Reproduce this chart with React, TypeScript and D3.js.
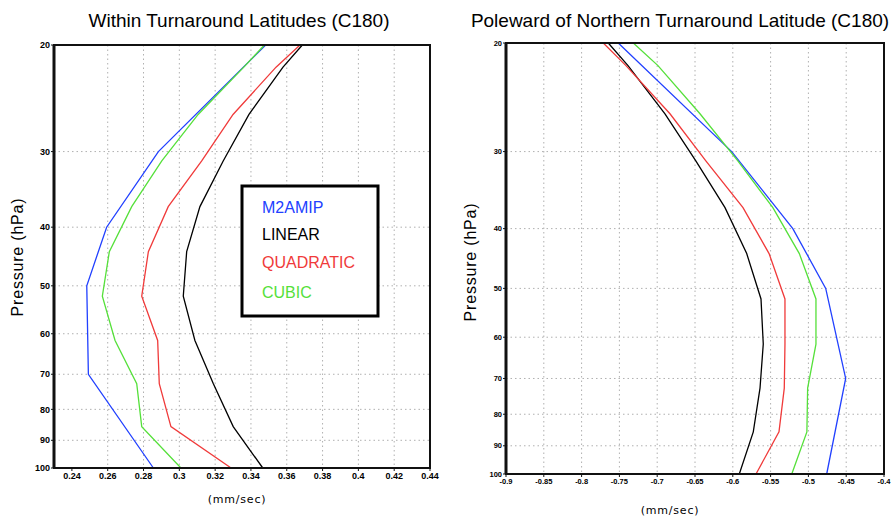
import React from "react";
import * as d3 from "d3";

const MODEL_LEVELS = [20, 21.76, 26.05, 31.09, 36.99, 43.91, 52.02, 61.56, 72.56, 85.44, 100];
const M2_LEVELS = [20, 30, 40, 50, 70, 100];
const Y_TICKS = [20, 30, 40, 50, 60, 70, 80, 90, 100];

const SERIES_NAMES = ["M2AMIP", "LINEAR", "QUADRATIC", "CUBIC"];
const SERIES_COLORS = ["#2140ff", "#000000", "#f03a3a", "#55e03a"];

const leftM2 = [0.3482, 0.2883, 0.2594, 0.2483, 0.2492, 0.2855];
const leftLinear = [0.3687, 0.3579, 0.3389, 0.3245, 0.3115, 0.3041, 0.3022, 0.3087, 0.319, 0.3301, 0.3466];
const leftQuadratic = [0.3674, 0.354, 0.330, 0.3125, 0.2938, 0.2827, 0.279, 0.2879, 0.2888, 0.2953, 0.3289];
const leftCubic = [0.3475, 0.336, 0.3105, 0.2902, 0.2734, 0.2609, 0.257, 0.2641, 0.2762, 0.279, 0.3009];

const rightM2 = [-0.7515, -0.6015, -0.5206, -0.4771, -0.4507, -0.4758];
const rightLinear = [-0.7647, -0.7386, -0.6897, -0.6487, -0.6103, -0.5816, -0.5627, -0.5597, -0.564, -0.5729, -0.5914];
const rightQuadratic = [-0.7713, -0.7413, -0.6831, -0.6354, -0.5865, -0.552, -0.531, -0.531, -0.5319, -0.5389, -0.5693];
const rightCubic = [-0.7316, -0.699, -0.6434, -0.5931, -0.547, -0.512, -0.49, -0.49, -0.501, -0.502, -0.522];

const leftXTicks = [0.24, 0.26, 0.28, 0.3, 0.32, 0.34, 0.36, 0.38, 0.4, 0.42, 0.44];
const rightXTicks = [-0.9, -0.85, -0.8, -0.75, -0.7, -0.65, -0.6, -0.55, -0.5, -0.45, -0.4];

type PanelProps = {
  title: string;
  box: { x0: number; x1: number; y0: number; y1: number };
  xDomain: [number, number];
  xTicks: number[];
  series: { levels: number[]; values: number[] }[];
  tickFont: number;
  xTickY: number;
  titleX: number;
  ylabX: number;
  ylabY: number;
  xlabX: number;
  xlabY: number;
};

function Panel(p: PanelProps) {
  const { box } = p;
  const x = d3.scaleLinear().domain(p.xDomain).range([box.x0, box.x1]);
  const y = d3.scaleLog().domain([20, 100]).range([box.y0, box.y1]);
  const line = d3
    .line<[number, number]>()
    .x((d) => x(d[1]))
    .y((d) => y(d[0]));
  return (
    <g>
      <text x={p.titleX} y={27} textAnchor="middle" fontFamily="Liberation Sans, Arial, sans-serif" fontSize={19}>
        {p.title}
      </text>
      {p.xTicks.slice(1, -1).map((t) => (
        <line key={"gx" + t} x1={x(t)} x2={x(t)} y1={box.y0} y2={box.y1} stroke="#b0b0b0" strokeWidth={1} strokeDasharray="1.5,3" />
      ))}
      {Y_TICKS.slice(1, -1).map((t) => (
        <line key={"gy" + t} x1={box.x0} x2={box.x1} y1={y(t)} y2={y(t)} stroke="#b0b0b0" strokeWidth={1} strokeDasharray="1.5,3" />
      ))}
      {p.series.map((s, i) => (
        <path
          key={"s" + i}
          d={line(s.levels.map((l, k) => [l, s.values[k]] as [number, number])) || ""}
          fill="none"
          stroke={SERIES_COLORS[i]}
          strokeWidth={1.3}
        />
      ))}
      <rect x={box.x0} y={box.y0} width={box.x1 - box.x0} height={box.y1 - box.y0} fill="none" stroke="#111" strokeWidth={2} />
      <line x1={box.x0} x2={box.x0} y1={box.y0} y2={box.y1} stroke="#111" strokeWidth={3} />
      {Y_TICKS.map((t) => (
        <g key={"yt" + t}>
          <line x1={box.x0 - 3} x2={box.x0} y1={y(t)} y2={y(t)} stroke="#111" strokeWidth={1} />
          <text
            x={box.x0 - 4}
            y={y(t) + p.tickFont * 0.35}
            textAnchor="end"
            fontFamily="Liberation Sans, Arial, sans-serif"
            fontWeight="bold"
            fontSize={p.tickFont}
          >
            {t}
          </text>
        </g>
      ))}
      {p.xTicks.map((t) => (
        <g key={"xt" + t}>
          <line x1={x(t)} x2={x(t)} y1={box.y1} y2={box.y1 + 3} stroke="#111" strokeWidth={1} />
          <text
            x={x(t)}
            y={p.xTickY}
            textAnchor="middle"
            fontFamily="Liberation Sans, Arial, sans-serif"
            fontWeight="bold"
            fontSize={p.tickFont}
          >
            {String(+t.toFixed(2))}
          </text>
        </g>
      ))}
      <text
        transform={`translate(${p.ylabX},${p.ylabY}) rotate(-90)`}
        textAnchor="middle"
        fontFamily="Liberation Sans, Arial, sans-serif"
        fontSize={16}
        letterSpacing={0.8}
      >
        {"Pressure  (hPa)"}
      </text>
      <text x={p.xlabX} y={p.xlabY} textAnchor="middle" fontFamily="DejaVu Sans, sans-serif" fontSize={11} letterSpacing={0.8}>
        (mm/sec)
      </text>
    </g>
  );
}

export default function App() {
  const leftSeries = [
    { levels: M2_LEVELS, values: leftM2 },
    { levels: MODEL_LEVELS, values: leftLinear },
    { levels: MODEL_LEVELS, values: leftQuadratic },
    { levels: MODEL_LEVELS, values: leftCubic },
  ];
  const rightSeries = [
    { levels: M2_LEVELS, values: rightM2 },
    { levels: MODEL_LEVELS, values: rightLinear },
    { levels: MODEL_LEVELS, values: rightQuadratic },
    { levels: MODEL_LEVELS, values: rightCubic },
  ];
  const legendY = [213, 240, 268, 298];
  return (
    <svg width={896} height={519} style={{ position: "absolute", left: 0, top: 0, background: "#fff" }}>
      <rect x={0} y={0} width={896} height={519} fill="#fff" />
      <Panel
        title="Within Turnaround Latitudes (C180)"
        box={{ x0: 54, x1: 430, y0: 45, y1: 468 }}
        xDomain={[0.23, 0.44]}
        xTicks={leftXTicks}
        series={leftSeries}
        tickFont={9}
        xTickY={479}
        titleX={239}
        ylabX={23}
        ylabY={257}
        xlabX={237}
        xlabY={503}
      />
      <Panel
        title="Poleward of Northern Turnaround Latitude (C180)"
        box={{ x0: 506, x1: 884, y0: 43, y1: 474 }}
        xDomain={[-0.9, -0.4]}
        xTicks={rightXTicks}
        series={rightSeries}
        tickFont={7.5}
        xTickY={484}
        titleX={680}
        ylabX={476}
        ylabY={262}
        xlabX={670}
        xlabY={514}
      />
      <rect x={242} y={186} width={136} height={130} fill="#fff" stroke="#000" strokeWidth={3} />
      {SERIES_NAMES.map((n, i) => (
        <text key={n} x={262} y={legendY[i]} fill={SERIES_COLORS[i]} fontFamily="Liberation Sans, Arial, sans-serif" fontSize={16}>
          {n}
        </text>
      ))}
    </svg>
  );
}
